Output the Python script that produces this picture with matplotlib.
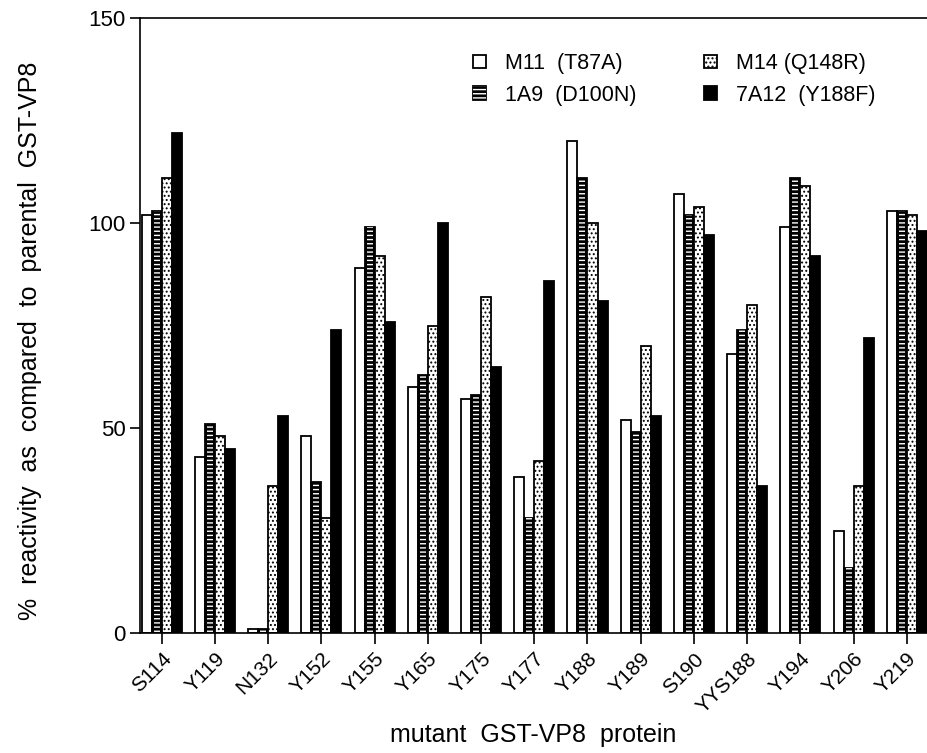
import matplotlib.pyplot as plt
import numpy as np

plt.rcParams['font.family'] = ['Liberation Sans', 'DejaVu Sans']

mutants = ['S114', 'Y119', 'N132', 'Y152', 'Y155', 'Y165', 'Y175', 'Y177',
           'Y188', 'Y189', 'S190', 'YYS188', 'Y194', 'Y206', 'Y219']
m11 = [102, 43, 1, 48, 89, 60, 57, 38, 120, 52, 107, 68, 99, 25, 103]
a1a9 = [103, 51, 1, 37, 99, 63, 58, 28, 111, 49, 102, 74, 111, 16, 103]
m14 = [111, 48, 36, 28, 92, 75, 82, 42, 100, 70, 104, 80, 109, 36, 102]
a7a12 = [122, 45, 53, 74, 76, 100, 65, 86, 81, 53, 97, 36, 92, 72, 98]
labels = ['M11  (T87A)', '1A9  (D100N)', 'M14 (Q148R)', '7A12  (Y188F)']

fig = plt.figure(figsize=(9.27, 7.53), dpi=100)
ax = fig.add_axes([0.151, 0.159, 0.849, 0.817])

x = np.arange(len(mutants))
w = 0.188

b1 = ax.bar(x - 1.5 * w, m11, w, color='white', edgecolor='black', linewidth=1.3)
b2 = ax.bar(x - 0.5 * w, a1a9, w, color='black', edgecolor='black', linewidth=1.3)
stripes = ax.bar(x - 0.5 * w, a1a9, w * 0.6, color='none', edgecolor='white',
                 hatch='----', linewidth=0)
b3 = ax.bar(x + 0.5 * w, m14, w, color='white', edgecolor='black', hatch='....', linewidth=1.3)
b4 = ax.bar(x + 1.5 * w, a7a12, w, color='black', edgecolor='black', linewidth=1.3)
for p in stripes:
    p.set_hatch_linewidth(1.0)
for p in b3:
    p.set_hatch_linewidth(0.9)

ax.set_xlim(-0.41, 14.38)
ax.set_ylim(0, 150)
ax.set_yticks([0, 50, 100, 150])
ax.set_xticks(x)
ax.set_xticklabels(mutants, rotation=45, ha='right', rotation_mode='anchor', fontsize=15)
ax.tick_params(axis='y', labelsize=16, length=7, width=1.2, direction='out')
ax.tick_params(axis='x', length=8, width=1.2, direction='out')
ax.spines['right'].set_visible(False)
for s in ['left', 'bottom', 'top']:
    ax.spines[s].set_linewidth(1.2)

ax.set_ylabel('%  reactivity  as  compared  to  parental  GST-VP8', fontsize=18, va='center')
ax.yaxis.set_label_coords(-0.14, 0.475)
ax.set_xlabel('mutant  GST-VP8  protein', fontsize=18, va='center')
ax.xaxis.set_label_coords(0.5, -0.166)

leg = ax.legend([b1, (b2, stripes), b3, b4], labels, ncol=2, frameon=False,
                loc='upper left', bbox_to_anchor=(0.398, 0.975), fontsize=15.5,
                handlelength=0.62, handleheight=0.58, handletextpad=0.9,
                columnspacing=3.1, labelspacing=0.5)

fig.savefig('out.png', dpi=100)
